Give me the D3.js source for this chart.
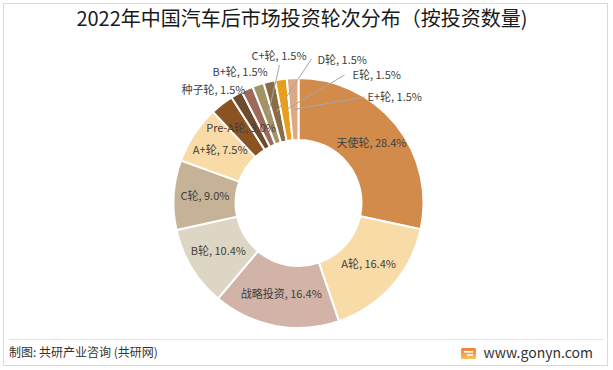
<!DOCTYPE html>
<html><head><meta charset="utf-8">
<script src="https://cdn.jsdelivr.net/npm/d3@7"></script>
<style>
html,body{margin:0;padding:0;background:#fff;}
svg{display:block;}
text{font-family:"Noto Sans CJK SC","Noto Sans",sans-serif;}
</style></head>
<body><svg id="chart" width="613" height="370"></svg>
<script>
// ---- data ----
const categories = ["天使轮","A轮","战略投资","B轮","C轮","A+轮","Pre-A轮","种子轮","B+轮","C+轮","D轮","E轮","E+轮"];
const shares = [28.4,16.4,16.4,10.4,9.0,7.5,3.0,1.5,1.5,1.5,1.5,1.5,1.5];
const titleText = "2022年中国汽车后市场投资轮次分布（按投资数量)";
const sourceText = "制图: 共研产业咨询 (共研网)";
const siteText = "www.gonyn.com";

// ---- style / layout config ----
const colors = ["#D38B4C","#F8DBA6","#D1B3A8","#DDD6C5","#C6B296","#F8DBA6","#8B5222","#6E4A30","#9B6A5A","#A39465","#8A6C46","#E89E1A","#DCA983"];
// outside label anchors (relative to centre) for the thin slices
const outsideLabels = {
  "种子轮": {lx:-117, ly:-112},
  "B+轮":  {lx:-86,  ly:-130},
  "C+轮":  {lx:-47,  ly:-146, ex:-19, ey:-138},
  "D轮":   {lx:19,   ly:-142, ex:13,  ey:-144},
  "E轮":   {lx:54,   ly:-127, ex:46,  ey:-128},
  "E+轮":  {lx:69,   ly:-105, ex:66,  ey:-106}
};

const W = 613, H = 370;
const cx = 298.5, cy = 203, rOuter = 125, rInner = 63;
const svg = d3.select("#chart");

// frame
svg.append("rect").attr("x",3.5).attr("y",3.5).attr("width",W-9).attr("height",H-8)
  .attr("fill","#fff").attr("stroke","#d9d9d9").attr("stroke-width",1);

// title
svg.append("text").attr("x",302).attr("y",21).attr("text-anchor","middle")
  .attr("dominant-baseline","middle").attr("font-size",20).attr("fill","#1a1a1a")
  .text(titleText);

const data = categories.map((c,i)=>({cat:c, value:shares[i], color:colors[i]}));
const pie = d3.pie().sort(null).value(d=>d.value).startAngle(0).endAngle(2*Math.PI);
const arcs = pie(data);
const arc = d3.arc().innerRadius(rInner).outerRadius(rOuter);
const labelArc = d3.arc().innerRadius(rOuter*0.75).outerRadius(rOuter*0.75);
const g = svg.append("g").attr("transform",`translate(${cx},${cy})`);

g.selectAll("path.slice").data(arcs).join("path").attr("class","slice")
  .attr("d",arc).attr("fill",d=>d.data.color)
  .attr("stroke","#fff").attr("stroke-width",2).attr("stroke-linejoin","miter");

const fmt = d => `${d.data.cat}, ${d.data.value.toFixed(1)}%`;

// leader lines
g.selectAll("line.leader").data(arcs.filter(d=>outsideLabels[d.data.cat] && outsideLabels[d.data.cat].ex!==undefined))
  .join("line").attr("class","leader")
  .attr("x1",d=>labelArc.centroid(d)[0]).attr("y1",d=>labelArc.centroid(d)[1])
  .attr("x2",d=>outsideLabels[d.data.cat].ex).attr("y2",d=>outsideLabels[d.data.cat].ey)
  .attr("stroke","#a6a6a6").attr("stroke-width",1);

// inside labels
g.selectAll("text.in").data(arcs.filter(d=>!outsideLabels[d.data.cat]))
  .join("text").attr("class","in")
  .attr("x",d=>labelArc.centroid(d)[0]).attr("y",d=>labelArc.centroid(d)[1])
  .attr("text-anchor","middle").attr("dominant-baseline","middle")
  .attr("font-size",11).attr("fill","#404040").text(fmt);

// outside labels
g.selectAll("text.out").data(arcs.filter(d=>outsideLabels[d.data.cat]))
  .join("text").attr("class","out")
  .attr("x",d=>outsideLabels[d.data.cat].lx).attr("y",d=>outsideLabels[d.data.cat].ly)
  .attr("text-anchor","start").attr("dominant-baseline","middle")
  .attr("font-size",11).attr("fill","#404040").text(fmt);

// footer
svg.append("line").attr("x1",9).attr("x2",604).attr("y1",339.5).attr("y2",339.5)
  .attr("stroke","#e3e3e3").attr("stroke-width",1);
svg.append("text").attr("x",9).attr("y",354).attr("dominant-baseline","middle")
  .attr("font-size",12).attr("fill","#333").text(sourceText);
svg.append("text").attr("x",593).attr("y",354).attr("text-anchor","end").attr("dominant-baseline","middle")
  .attr("font-family","Roboto, 'Noto Sans', sans-serif")
  .attr("font-size",14).attr("fill","#333").text(siteText);
// logo
const defs = svg.append("defs");
const grad = defs.append("linearGradient").attr("id","lg").attr("x1",0).attr("y1",0).attr("x2",0).attr("y2",1);
grad.append("stop").attr("offset","0%").attr("stop-color","#F47B3B");
grad.append("stop").attr("offset","100%").attr("stop-color","#F9C05A");
const logo = svg.append("g").attr("transform","translate(461,348)");
logo.append("rect").attr("width",15).attr("height",11).attr("rx",1.5).attr("fill","url(#lg)");
logo.append("rect").attr("x",3).attr("y",3).attr("width",9).attr("height",1.6).attr("fill","#fff");
logo.append("rect").attr("x",6).attr("y",6.2).attr("width",6).attr("height",1.6).attr("fill","#fff");
</script></body></html>
